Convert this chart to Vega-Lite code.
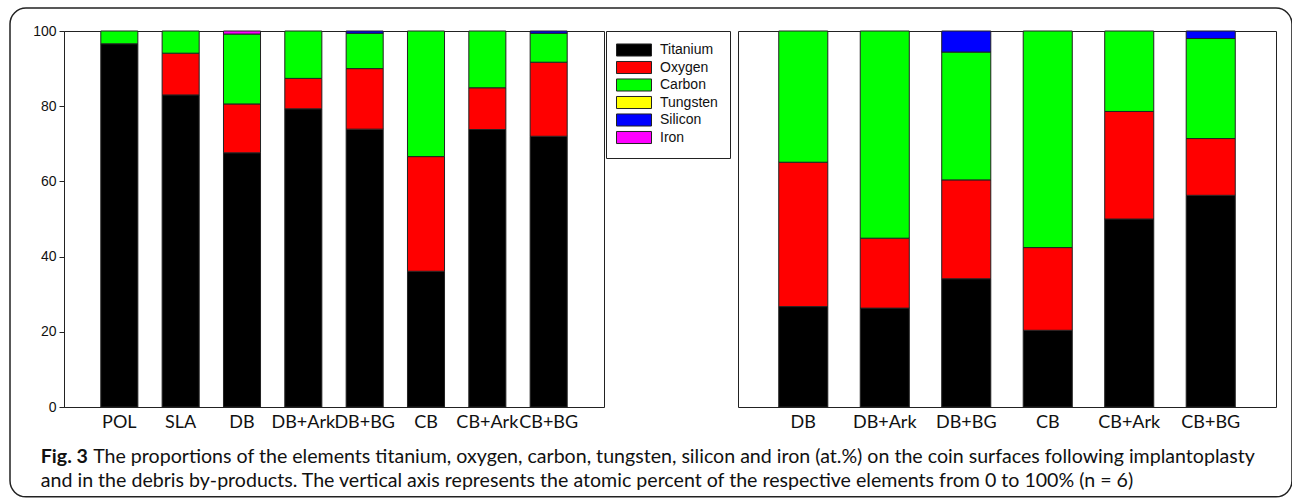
{
  "$schema": "https://vega.github.io/schema/vega-lite/v6.json",
  "padding": {"left": 8, "top": 6, "right": 0, "bottom": 0},
  "background": "white",
  "config": {
    "view": {"stroke": "#222", "strokeWidth": 1},
    "font": "Liberation Sans"
  },
  "datasets": {
    "surfaces": [
      {"group": "POL", "element": "Titanium", "value": 96.6},
      {"group": "POL", "element": "Carbon", "value": 3.4},
      {"group": "SLA", "element": "Titanium", "value": 83.0},
      {"group": "SLA", "element": "Oxygen", "value": 11.1},
      {"group": "SLA", "element": "Carbon", "value": 5.9},
      {"group": "DB", "element": "Titanium", "value": 67.6},
      {"group": "DB", "element": "Oxygen", "value": 13.0},
      {"group": "DB", "element": "Carbon", "value": 18.6},
      {"group": "DB", "element": "Iron", "value": 0.8},
      {"group": "DB+Ark", "element": "Titanium", "value": 79.3},
      {"group": "DB+Ark", "element": "Oxygen", "value": 8.1},
      {"group": "DB+Ark", "element": "Carbon", "value": 12.6},
      {"group": "DB+BG", "element": "Titanium", "value": 73.9},
      {"group": "DB+BG", "element": "Oxygen", "value": 16.1},
      {"group": "DB+BG", "element": "Carbon", "value": 9.4},
      {"group": "DB+BG", "element": "Silicon", "value": 0.6},
      {"group": "CB", "element": "Titanium", "value": 36.1},
      {"group": "CB", "element": "Oxygen", "value": 30.5},
      {"group": "CB", "element": "Carbon", "value": 33.4},
      {"group": "CB+Ark", "element": "Titanium", "value": 73.8},
      {"group": "CB+Ark", "element": "Oxygen", "value": 11.1},
      {"group": "CB+Ark", "element": "Carbon", "value": 15.1},
      {"group": "CB+BG", "element": "Titanium", "value": 72.0},
      {"group": "CB+BG", "element": "Oxygen", "value": 19.7},
      {"group": "CB+BG", "element": "Carbon", "value": 7.7},
      {"group": "CB+BG", "element": "Silicon", "value": 0.6}
    ],
    "debris": [
      {"group": "DB", "element": "Titanium", "value": 26.7},
      {"group": "DB", "element": "Oxygen", "value": 38.4},
      {"group": "DB", "element": "Carbon", "value": 34.9},
      {"group": "DB+Ark", "element": "Titanium", "value": 26.3},
      {"group": "DB+Ark", "element": "Oxygen", "value": 18.6},
      {"group": "DB+Ark", "element": "Carbon", "value": 55.1},
      {"group": "DB+BG", "element": "Titanium", "value": 34.1},
      {"group": "DB+BG", "element": "Oxygen", "value": 26.3},
      {"group": "DB+BG", "element": "Carbon", "value": 34.0},
      {"group": "DB+BG", "element": "Silicon", "value": 5.6},
      {"group": "CB", "element": "Titanium", "value": 20.4},
      {"group": "CB", "element": "Oxygen", "value": 22.0},
      {"group": "CB", "element": "Carbon", "value": 57.6},
      {"group": "CB+Ark", "element": "Titanium", "value": 50.0},
      {"group": "CB+Ark", "element": "Oxygen", "value": 28.6},
      {"group": "CB+Ark", "element": "Carbon", "value": 21.4},
      {"group": "CB+BG", "element": "Titanium", "value": 56.3},
      {"group": "CB+BG", "element": "Oxygen", "value": 15.1},
      {"group": "CB+BG", "element": "Carbon", "value": 26.6},
      {"group": "CB+BG", "element": "Silicon", "value": 2.0}
    ],
    "caption": [
      {"part": "Fig. 3", "line": 0},
      {"part": "The proportions of the elements titanium, oxygen, carbon, tungsten, silicon and iron (at.%) on the coin surfaces following implantoplasty", "line": 1},
      {"part": "and in the debris by-products. The vertical axis represents the atomic percent of the respective elements from 0 to 100% (n = 6)", "line": 2}
    ]
  },
  "hconcat": [
    {
      "width": 540,
      "height": 376,
      "layer": [
        {
          "data": {"name": "surfaces"},
          "transform": [
            {"calculate": "indexof(['Titanium', 'Oxygen', 'Carbon', 'Tungsten', 'Silicon', 'Iron'], datum.element)", "as": "stackIndex"}
          ],
          "mark": {"type": "bar", "stroke": "#222", "strokeWidth": 1},
          "encoding": {
            "x": {
              "field": "group",
              "type": "nominal",
              "sort": ["POL", "SLA", "DB", "DB+Ark", "DB+BG", "CB", "CB+Ark", "CB+BG"],
              "scale": {"paddingInner": 0.396, "paddingOuter": 0.6},
              "axis": {
                "title": null, "labelAngle": 0, "ticks": false, "domain": false,
                "labelFont": "Lato", "labelFontSize": 18,
                "labelColor": "#111", "labelPadding": 6
              }
            },
            "y": {
              "field": "value",
              "type": "quantitative",
              "stack": "zero",
              "scale": {"domain": [0, 100], "nice": false, "zero": false},
              "axis": {
                "title": null, "values": [0, 20, 40, 60, 80, 100], "grid": false,
                "tickSize": 5, "tickColor": "#222", "domainColor": "#222",
                "labelFont": "Liberation Sans", "labelFontSize": 14,
                "labelColor": "#111", "labelPadding": 3
              }
            },
            "order": {"field": "stackIndex", "type": "quantitative", "sort": "ascending"},
            "color": {
              "field": "element",
              "type": "nominal",
              "sort": ["Titanium", "Oxygen", "Carbon", "Tungsten", "Silicon", "Iron"],
              "scale": {
                "domain": ["Titanium", "Oxygen", "Carbon", "Tungsten", "Silicon", "Iron"],
                "range": ["#000000", "#ff0000", "#00ff00", "#ffff00", "#0000ff", "#ff00ff"]
              },
              "legend": {
                "title": null,
                "orient": "none",
                "legendX": 542,
                "legendY": 0,
                "strokeColor": "#222",
                "fillColor": "white",
                "padding": 11.5,
                "symbolType": "M-2.5,-0.86L2.5,-0.86L2.5,0.86L-2.5,0.86Z",
                "symbolSize": 196,
                "symbolOffset": 9,
                "symbolStrokeColor": "#222",
                "symbolStrokeWidth": 1,
                "symbolOpacity": 1,
                "labelFont": "Liberation Sans",
                "labelFontSize": 14,
                "labelColor": "#111",
                "labelOffset": 18.5,
                "rowPadding": 0.5
              }
            }
          }
        },
        {
          "data": {"name": "caption"},
          "layer": [
            {
              "mark": {"type": "rect", "filled": false, "stroke": "#222", "strokeWidth": 1.5, "cornerRadius": 16, "clip": false},
              "transform": [{"filter": "datum.line === 0"}],
              "encoding": {
                "x": {"datum": -10, "type": "quantitative", "scale": {"domain": [0, 100], "nice": false, "zero": false}, "axis": null},
                "x2": {"datum": 227.4},
                "y": {"datum": 106.1, "type": "quantitative"},
                "y2": {"datum": -23.9}
              }
            },
            {
              "mark": {"type": "text", "align": "left", "baseline": "middle", "font": "Lato", "fontSize": 19.6, "fontWeight": "bold", "color": "#111"},
              "transform": [{"filter": "datum.line === 0"}],
              "encoding": {
                "x": {"datum": -4.3, "type": "quantitative"},
                "y": {"datum": -13.3, "type": "quantitative"},
                "text": {"field": "part"}
              }
            },
            {
              "mark": {"type": "text", "align": "left", "baseline": "middle", "font": "Lato", "fontSize": 19.6, "color": "#111"},
              "transform": [{"filter": "datum.line === 1"}],
              "encoding": {
                "x": {"datum": 5.4, "type": "quantitative"},
                "y": {"datum": -13.3, "type": "quantitative"},
                "text": {"field": "part"}
              }
            },
            {
              "mark": {"type": "text", "align": "left", "baseline": "middle", "font": "Lato", "fontSize": 19.6, "color": "#111"},
              "transform": [{"filter": "datum.line === 2"}],
              "encoding": {
                "x": {"datum": -4.3, "type": "quantitative"},
                "y": {"datum": -19.7, "type": "quantitative"},
                "text": {"field": "part"}
              }
            }
          ]
        }
      ],
      "resolve": {"scale": {"x": "independent"}}
    },
    {
      "width": 538,
      "height": 376,
      "data": {"name": "debris"},
      "transform": [
        {"calculate": "indexof(['Titanium', 'Oxygen', 'Carbon', 'Tungsten', 'Silicon', 'Iron'], datum.element)", "as": "stackIndex"}
      ],
      "mark": {"type": "bar", "stroke": "#222", "strokeWidth": 1},
      "encoding": {
        "x": {
          "field": "group",
          "type": "nominal",
          "sort": ["DB", "DB+Ark", "DB+BG", "CB", "CB+Ark", "CB+BG"],
          "scale": {"paddingInner": 0.398, "paddingOuter": 0.5},
          "axis": {
            "title": null, "labelAngle": 0, "ticks": false, "domain": false,
            "labelFont": "Lato", "labelFontSize": 18,
            "labelColor": "#111", "labelPadding": 6
          }
        },
        "y": {
          "field": "value",
          "type": "quantitative",
          "stack": "zero",
          "scale": {"domain": [0, 100], "nice": false},
          "axis": null
        },
        "order": {"field": "stackIndex", "type": "quantitative", "sort": "ascending"},
        "color": {
          "field": "element",
          "type": "nominal",
          "sort": ["Titanium", "Oxygen", "Carbon", "Tungsten", "Silicon", "Iron"],
          "scale": {
            "domain": ["Titanium", "Oxygen", "Carbon", "Tungsten", "Silicon", "Iron"],
            "range": ["#000000", "#ff0000", "#00ff00", "#ffff00", "#0000ff", "#ff00ff"]
          },
          "legend": null
        }
      }
    }
  ],
  "spacing": 134,
  "bounds": "flush",
  "resolve": {"scale": {"color": "independent", "x": "independent", "y": "independent"}}
}
